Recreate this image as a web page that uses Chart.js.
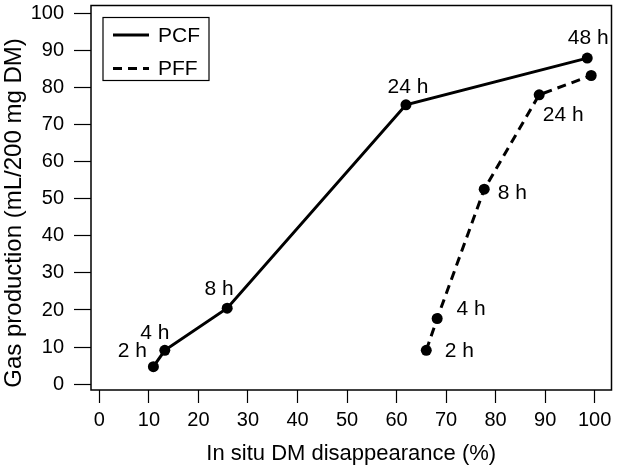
<!DOCTYPE html>
<html>
<head>
<meta charset="utf-8">
<script src="https://cdn.jsdelivr.net/npm/chart.js@4"></script>
<style>
    html, body { margin: 0; padding: 0; background: #fff; }
    .gasChart { width: 617px; height: 469px; }
</style>
</head>
<body>
<div class="gasChart">
    <canvas id="gasProductionChart" width="617" height="469"></canvas>
</div>
<script>
    // in situ DM disappearance (%) vs gas production (mL/200 mg DM)
    const pcfX = [10.9, 13.2, 25.8, 61.9, 98.5];
    const pcfY = [4.7, 9.1, 20.5, 75.4, 88.0];
    const pcfLabels = ["2 h", "4 h", "8 h", "24 h", "48 h"];

    const pffX = [66.0, 68.2, 77.7, 88.8, 99.3];
    const pffY = [9.1, 17.7, 52.6, 78.1, 83.3];
    const pffLabels = ["2 h", "4 h", "8 h", "24 h", ""];

    const xTicks = [0, 10, 20, 30, 40, 50, 60, 70, 80, 90, 100];
    const yTicks = [0, 10, 20, 30, 40, 50, 60, 70, 80, 90, 100];

    const yTitle = "Gas production (mL/200 mg DM)";
    const fontFamily = "'Liberation Sans', Arial, sans-serif";

    // label offsets in px, relative to each point
    const pcfOffsets = [[-21, -15], [-10, -17], [-8, -19], [2, -18], [1, -20]];
    const pffOffsets = [[33, 1], [34, -9], [28, 4], [24, 20], [0, 0]];

    const toPoints = (xs, ys) => xs.map((x, i) => ({x: x, y: ys[i]}));

    const pointLabelsPlugin = {
        id: 'pointLabels',
        afterDatasetsDraw(chart) {
            let ctx = chart.ctx;
            let xScale = chart.scales.x;
            let yScale = chart.scales.y;
            let sets = [[pcfX, pcfY, pcfLabels, pcfOffsets], [pffX, pffY, pffLabels, pffOffsets]];
            ctx.save();
            ctx.fillStyle = "#000";
            ctx.font = "21px " + fontFamily;
            ctx.textAlign = "center";
            ctx.textBaseline = "middle";
            sets.forEach(([xs, ys, labels, offs]) => {
                labels.forEach((lbl, i) => {
                    if (!lbl) return;
                    let px = xScale.getPixelForValue(xs[i]) + offs[i][0];
                    let py = yScale.getPixelForValue(ys[i]) + offs[i][1];
                    ctx.fillText(lbl, px, py);
                });
            });
            ctx.restore();
        }
    };

    const boxAndLegendPlugin = {
        id: 'boxAndLegend',
        afterDraw(chart) {
            let ctx = chart.ctx;
            let area = chart.chartArea;
            ctx.save();
            ctx.strokeStyle = "#000";
            ctx.lineWidth = 1.5;
            ctx.strokeRect(area.left, area.top, area.right - area.left, area.bottom - area.top);

            // y axis title, sits a bit lower than the plot centre
            ctx.save();
            ctx.translate(14, 213);
            ctx.rotate(-Math.PI / 2);
            ctx.font = "24px " + fontFamily;
            ctx.fillStyle = "#000";
            ctx.textAlign = "center";
            ctx.textBaseline = "middle";
            ctx.fillText(yTitle, 0, 0);
            ctx.restore();

            // legend box
            let lx = area.left + 12, ly = area.top + 12, lw = 106, lh = 63;
            ctx.lineWidth = 1.2;
            ctx.strokeRect(lx, ly, lw, lh);
            ctx.font = "21px " + fontFamily;
            ctx.fillStyle = "#000";
            ctx.textBaseline = "middle";
            chart.data.datasets.forEach((ds, i) => {
                let y = ly + 17.5 + i * 33.5;
                ctx.beginPath();
                ctx.lineWidth = ds.borderWidth;
                ctx.setLineDash(ds.borderDash || []);
                ctx.moveTo(lx + 10, y);
                ctx.lineTo(lx + 46, y);
                ctx.stroke();
                ctx.setLineDash([]);
                ctx.fillText(ds.label, lx + 55, y + 1);
            });
            ctx.restore();
        }
    };

    let ctx = document.getElementById("gasProductionChart");
    new Chart(ctx, {
        type: 'scatter',
        data: {
            datasets: [
                {
                    label: "PCF",
                    data: toPoints(pcfX, pcfY),
                    showLine: true,
                    borderColor: "#000",
                    backgroundColor: "#000",
                    borderWidth: 3,
                    pointBorderWidth: 0,
                    pointRadius: 5.5,
                    pointHoverRadius: 5.5,
                    lineTension: 0
                },
                {
                    label: "PFF",
                    data: toPoints(pffX, pffY),
                    showLine: true,
                    borderColor: "#000",
                    backgroundColor: "#000",
                    borderWidth: 3,
                    borderDash: [9, 6],
                    pointBorderWidth: 0,
                    pointRadius: 5.5,
                    pointHoverRadius: 5.5,
                    lineTension: 0
                }
            ]
        },
        options: {
            responsive: false,
            animation: false,
            layout: {padding: {top: 4, right: 4, left: 0, bottom: 0}},
            scales: {
                x: {
                    type: 'linear',
                    min: -1.7,
                    max: 103.4,
                    afterBuildTicks: (scale) => { scale.ticks = xTicks.map(v => ({value: v})); },
                    afterFit: (scale) => {
                        scale.height = 79;
                        scale.paddingLeft = 0;
                        scale.paddingRight = 0;
                    },
                    border: {display: false},
                    grid: {drawOnChartArea: false, tickLength: 13, color: "#000", tickWidth: 1.2},
                    ticks: {color: "#000", padding: 5, font: {size: 20, family: fontFamily}, maxRotation: 0},
                    title: {
                        display: true,
                        text: "In situ DM disappearance (%)",
                        color: "#000",
                        font: {size: 22, family: fontFamily},
                        padding: {top: 0, bottom: 2}
                    }
                },
                y: {
                    type: 'linear',
                    min: -1.6,
                    max: 102.2,
                    afterBuildTicks: (scale) => { scale.ticks = yTicks.map(v => ({value: v})); },
                    afterFit: (scale) => {
                        scale.width = 91;
                        scale.paddingTop = 0;
                        scale.paddingBottom = 0;
                    },
                    border: {display: false},
                    grid: {drawOnChartArea: false, tickLength: 17, color: "#000", tickWidth: 1.2},
                    ticks: {color: "#000", padding: 10, font: {size: 20, family: fontFamily}},
                    title: {display: false}
                }
            },
            plugins: {
                legend: {display: false},
                tooltip: {enabled: false}
            }
        },
        plugins: [pointLabelsPlugin, boxAndLegendPlugin]
    });
</script>
</body>
</html>
